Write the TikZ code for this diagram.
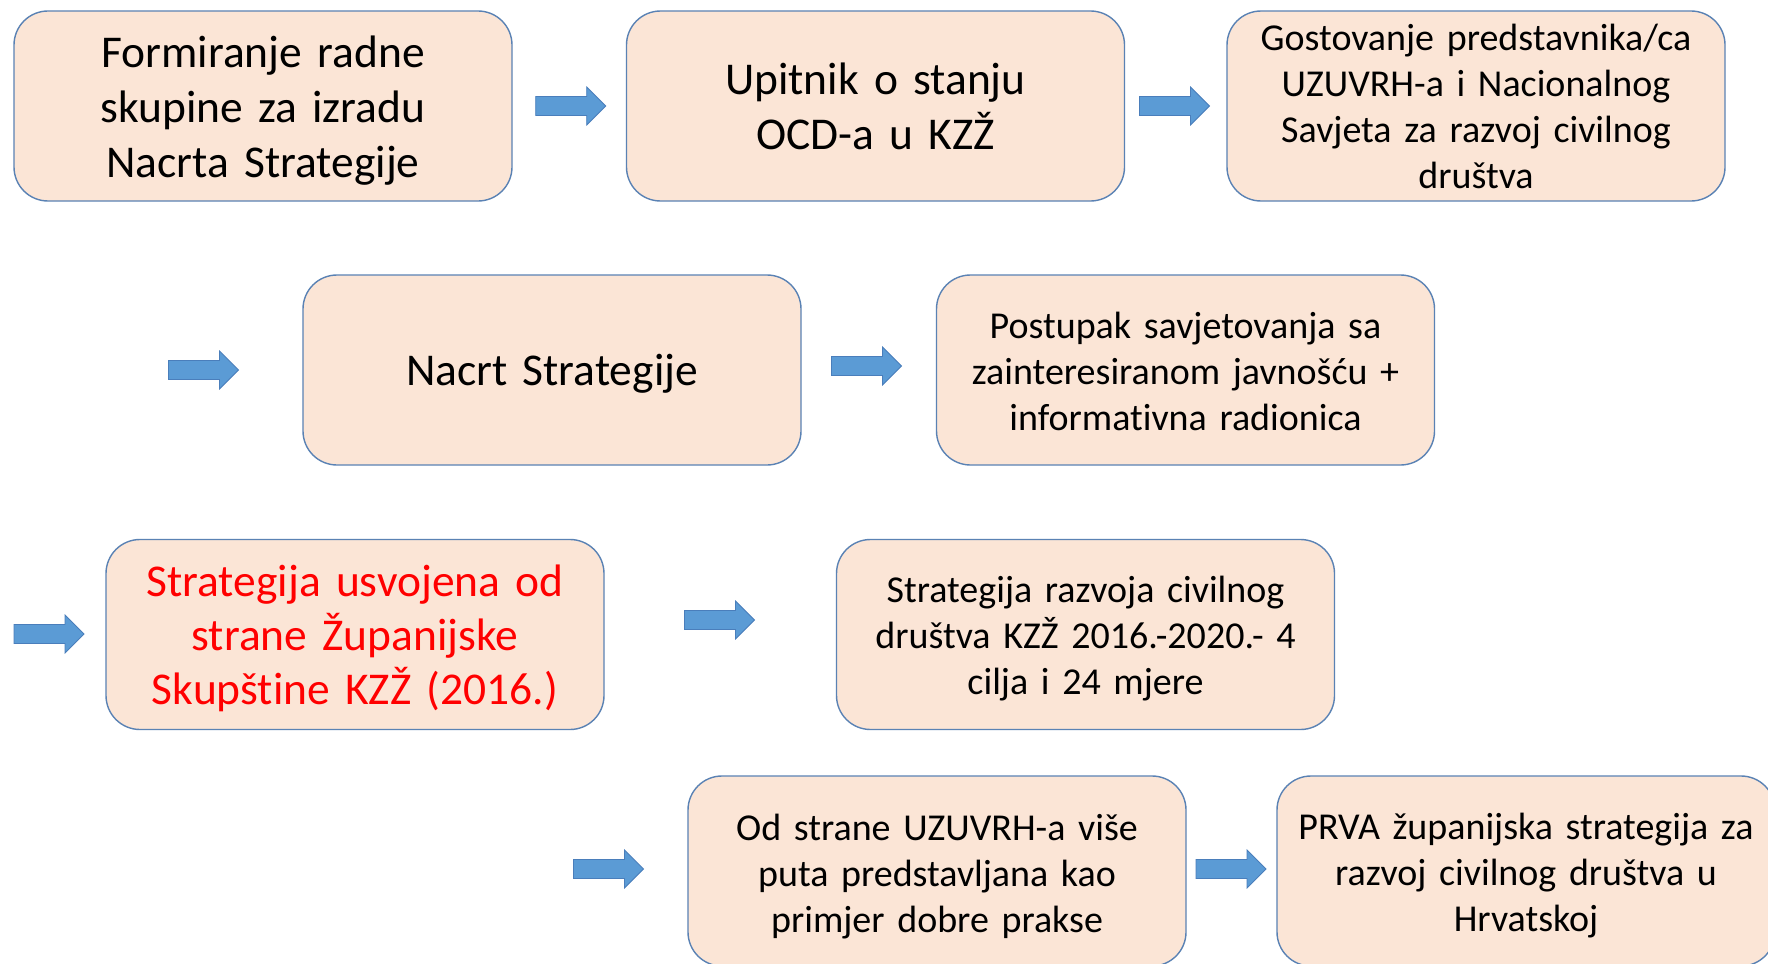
\documentclass[tikz,border=0pt]{standalone}
\usepackage{fontspec}
\setmainfont{Carlito}[Ligatures=NoCommon,WordSpace=0.9]
\usetikzlibrary{calc}
\definecolor{boxfill}{HTML}{FBE5D6}
\definecolor{boxline}{HTML}{5A82B4}
\definecolor{arrfill}{HTML}{5B9BD5}
\definecolor{arrline}{HTML}{4A7EBB}
\definecolor{redtxt}{HTML}{FF0000}
\tikzset{
  stepbox/.style={draw=boxline, line width=1.4pt, fill=boxfill, rounded corners=34pt,
    minimum width=498pt, minimum height=190pt, inner sep=0pt},
  boxtext/.style={inner sep=0pt, align=center, text width=480pt},
  bigtxt/.style={boxtext, font=\fontsize{45.5}{55}\selectfont},
  smalltxt/.style={boxtext, font=\fontsize{38}{46}\selectfont},
  blockarr/.style={fill=arrfill, draw=arrline, line width=0.8pt},
}
\newcommand\blockarrow[3]{%
  \coordinate (#1) at (#2,#3);
  \path[blockarr] ($(#1)+(-35,-9.5)$) -- ($(#1)+(16,-9.5)$) -- ($(#1)+(16,-19)$)
    -- ($(#1)+(35,0)$) -- ($(#1)+(16,19)$) -- ($(#1)+(16,9.5)$)
    -- ($(#1)+(-35,9.5)$) -- cycle;
}
\begin{document}
\begin{tikzpicture}[x=1pt,y=-1pt]
\path[use as bounding box] (0,0) rectangle (1768,963);
\clip (0,0) rectangle (1768,963);
\fill[white] (0,0) rectangle (1768,963);

\node[stepbox] (b1) at (263,106) {};
\node[bigtxt] (t1) at ($(b1.center)+(0,4.5)$) {Formiranje radne\\skupine za izradu\\Nacrta Strategije};
\node[stepbox] (b2) at (875.5,106) {};
\node[bigtxt] (t2) at (b2.center) {Upitnik o stanju\\OCD-a u KZŽ};
\node[stepbox] (b3) at (1476,106) {};
\node[smalltxt] (t3) at (b3.center) {Gostovanje predstavnika/ca\\UZUVRH-a i Nacionalnog\\Savjeta za razvoj civilnog\\društva};

\node[stepbox] (b4) at (552,370) {};
\node[bigtxt] (t4) at ($(b4.center)+(0,3.5)$) {Nacrt Strategije};
\node[stepbox] (b5) at (1185.5,370) {};
\node[smalltxt] (t5) at ($(b5.center)+(0,1)$) {Postupak savjetovanja sa\\zainteresiranom javnošću +\\informativna radionica};

\node[stepbox] (b6) at (355,634.5) {};
\node[boxtext,font=\fontsize{45.5}{54}\selectfont,text=redtxt] (t6) at ($(b6.center)+(0,3.5)$) {Strategija usvojena od\\strane Županijske\\Skupštine KZŽ (2016.)};
\node[stepbox] (b7) at (1085.5,634.5) {};
\node[smalltxt] (t7) at ($(b7.center)+(0,4.5)$) {Strategija razvoja civilnog\\društva KZŽ 2016.-2020.- 4\\cilja i 24 mjere};

\node[stepbox] (b8) at (937,871) {};
\node[smalltxt] (t8) at ($(b8.center)+(0,5.5)$) {Od strane UZUVRH-a više\\puta predstavljana kao\\primjer dobre prakse};
\node[stepbox] (b9) at (1526,871) {};
\node[smalltxt] (t9) at ($(b9.center)+(0,4.5)$) {PRVA županijska strategija za\\razvoj civilnog društva u\\Hrvatskoj};

\blockarrow{a1}{570.7}{106}
\blockarrow{a2}{1174.5}{106}
\blockarrow{a3}{203.5}{370}
\blockarrow{a4}{866.5}{366}
\blockarrow{a5}{49}{634}
\blockarrow{a6}{719.5}{620}
\blockarrow{a7}{608.5}{869}
\blockarrow{a8}{1231}{869}
\end{tikzpicture}
\end{document}
